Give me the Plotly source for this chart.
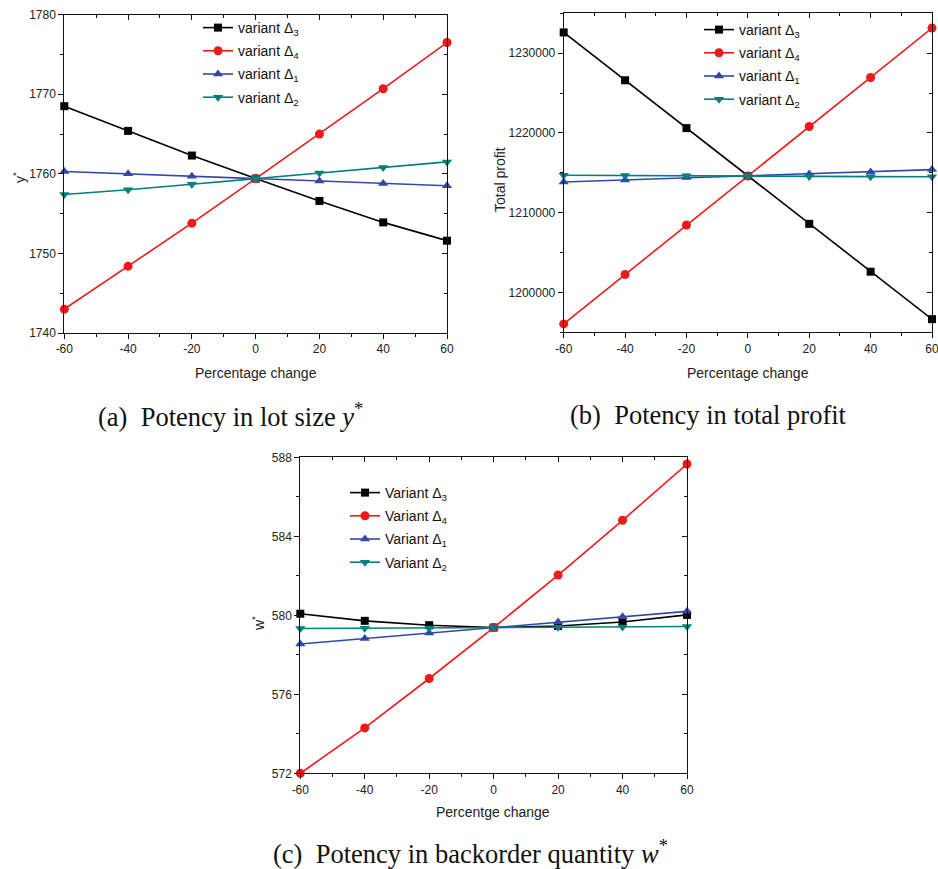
import plotly.graph_objects as go

# ---------------- data ----------------
pct = [-60, -40, -20, 0, 20, 40, 60]
x_ticks = [-60, -40, -20, 0, 20, 40, 60]
x_ticktext = ["-60", "-40", "-20", "0", "20", "40", "60"]

a_d3 = [1768.5, 1765.4, 1762.3, 1759.4, 1756.6, 1753.9, 1751.6]
a_d4 = [1743.0, 1748.4, 1753.8, 1759.4, 1765.0, 1770.7, 1776.5]
a_d1 = [1760.3, 1760.0, 1759.7, 1759.4, 1759.1, 1758.8, 1758.5]
a_d2 = [1757.4, 1758.0, 1758.7, 1759.4, 1760.1, 1760.8, 1761.5]

b_d3 = [1232600, 1226600, 1220600, 1214600, 1208600, 1202600, 1196650]
b_d4 = [1196050, 1202250, 1208450, 1214600, 1220800, 1226950, 1233150]
b_d1 = [1213850, 1214100, 1214400, 1214600, 1214850, 1215100, 1215400]
b_d2 = [1214700, 1214650, 1214620, 1214600, 1214550, 1214520, 1214500]

c_d3 = [580.08, 579.72, 579.50, 579.38, 579.46, 579.66, 580.02]
c_d4 = [572.0, 574.3, 576.8, 579.38, 582.04, 584.81, 587.66]
c_d1 = [578.55, 578.82, 579.11, 579.38, 579.66, 579.93, 580.20]
c_d2 = [579.33, 579.35, 579.36, 579.38, 579.40, 579.41, 579.43]

names_lower = ["variant Δ<sub>3</sub>", "variant Δ<sub>4</sub>",
               "variant Δ<sub>1</sub>", "variant Δ<sub>2</sub>"]
names_upper = ["Variant Δ<sub>3</sub>", "Variant Δ<sub>4</sub>",
               "Variant Δ<sub>1</sub>", "Variant Δ<sub>2</sub>"]

a_ticks = [1740, 1750, 1760, 1770, 1780]
b_ticks = [1200000, 1210000, 1220000, 1230000]
c_ticks = [572, 576, 580, 584, 588]

# ---------------- style ----------------
colors = ["#000000", "#f01818", "#3248a8", "#00807c"]
symbols = ["square", "circle", "triangle-up", "triangle-down"]
msizes = [8, 9, 9, 9]
FONT = "Arial, Liberation Sans, sans-serif"
SERIF = "Liberation Serif, DejaVu Serif, serif"

fig = go.Figure()

panels = [
    (["x", "y"], [a_d3, a_d4, a_d1, a_d2], names_lower, "legend", ["x4", "y4"]),
    (["x2", "y2"], [b_d3, b_d4, b_d1, b_d2], names_lower, "legend2", ["x5", "y5"]),
    (["x3", "y3"], [c_d3, c_d4, c_d1, c_d2], names_upper, "legend3", ["x6", "y6"]),
]
for pi, ((xa, ya), series, names, leg, (xo, yo)) in enumerate(panels):
    for i, s in enumerate(series):
        fig.add_trace(go.Scatter(
            x=pct, y=s, name=names[i], xaxis=xa, yaxis=ya, legend=leg,
            legendgroup=f"p{pi}s{i}",
            mode="lines+markers", cliponaxis=False,
            line=dict(color=colors[i], width=1.6),
            marker=dict(symbol=symbols[i], size=msizes[i], color=colors[i],
                        line=dict(width=0)),
        ))
    # invisible helper traces so the mirrored (top / right) tick axes render
    fig.add_trace(go.Scatter(x=pct, y=series[0], xaxis=xo, yaxis=ya,
                             mode="lines", opacity=0, showlegend=False,
                             hoverinfo="skip"))
    fig.add_trace(go.Scatter(x=pct, y=series[0], xaxis=xa, yaxis=yo,
                             mode="lines", opacity=0, showlegend=False,
                             hoverinfo="skip"))

W, H = 938, 869
def px_x(v):
    return v / W
def px_y(v):
    return 1 - v / H

doms = {
    "a": ([px_x(64.3), px_x(447)], [px_y(333), px_y(14.7)]),
    "b": ([px_x(563.7), px_x(932)], [px_y(332.3), px_y(13.3)]),
    "c": ([px_x(300.3), px_x(687)], [px_y(773.3), px_y(457.3)]),
}

tickfont = dict(family=FONT, size=12, color="#222222")
titlefont = dict(family=FONT, size=14, color="#222222")
X_MINOR = [-50, -30, -10, 10, 30, 50]

def xaxis_main(dom, anchor):
    return dict(domain=dom, anchor=anchor, range=[-60, 60], automargin=False,
                tickvals=x_ticks, ticktext=x_ticktext, ticks="outside", ticklen=5,
                tickwidth=1, tickcolor="#111", showline=True, linecolor="#111",
                linewidth=1, mirror=True, showgrid=False, zeroline=False,
                ticklabeloverflow="allow",
                minor=dict(tickvals=X_MINOR, ticks="outside",
                           ticklen=3, tickwidth=1, tickcolor="#111", showgrid=False),
                tickfont=tickfont)

def yaxis_main(dom, anchor, rng, tv, minor_tv, fmt=None):
    d = dict(domain=dom, anchor=anchor, range=rng, tickvals=tv, automargin=False,
             ticks="outside", ticklen=5, tickwidth=1, tickcolor="#111",
             showline=True, linecolor="#111", linewidth=1, mirror=True,
             showgrid=False, zeroline=False, ticklabeloverflow="allow",
             minor=dict(tickvals=minor_tv, ticks="outside", ticklen=3,
                        tickwidth=1, tickcolor="#111", showgrid=False),
             tickfont=tickfont)
    if fmt:
        d["tickformat"] = fmt
    return d

def xaxis_top(overlay, anchor):
    return dict(overlaying=overlay, anchor=anchor, side="top", range=[-60, 60],
                automargin=False,
                tickvals=x_ticks, ticks="inside", ticklen=5, tickwidth=1,
                tickcolor="#111", showticklabels=False, showgrid=False,
                zeroline=False, showline=False,
                minor=dict(tickvals=X_MINOR, ticks="inside",
                           ticklen=3, tickwidth=1, tickcolor="#111", showgrid=False))

def yaxis_right(overlay, anchor, rng, tv, minor_tv):
    return dict(overlaying=overlay, anchor=anchor, side="right", range=rng,
                automargin=False,
                tickvals=tv, ticks="inside", ticklen=5, tickwidth=1,
                tickcolor="#111", showticklabels=False, showgrid=False,
                zeroline=False, showline=False,
                minor=dict(tickvals=minor_tv, ticks="inside", ticklen=3,
                           tickwidth=1, tickcolor="#111", showgrid=False))

a_rng = [1740, 1780]
b_rng = [1195000, 1235000]
c_rng = [572, 588]
a_minor = [1745, 1755, 1765, 1775]
b_minor = [1195000, 1205000, 1215000, 1225000, 1235000]
c_minor = [574, 578, 582, 586]

fig.update_layout(
    xaxis=xaxis_main(doms["a"][0], "y"),
    yaxis=yaxis_main(doms["a"][1], "x", a_rng, a_ticks, a_minor),
    xaxis2=xaxis_main(doms["b"][0], "y2"),
    yaxis2=yaxis_main(doms["b"][1], "x2", b_rng, b_ticks, b_minor, "d"),
    xaxis3=xaxis_main(doms["c"][0], "y3"),
    yaxis3=yaxis_main(doms["c"][1], "x3", c_rng, c_ticks, c_minor),
    xaxis4=xaxis_top("x", "y"),
    yaxis4=yaxis_right("y", "x", a_rng, a_ticks, a_minor),
    xaxis5=xaxis_top("x2", "y2"),
    yaxis5=yaxis_right("y2", "x2", b_rng, b_ticks, b_minor),
    xaxis6=xaxis_top("x3", "y3"),
    yaxis6=yaxis_right("y3", "x3", c_rng, c_ticks, c_minor),
)

legfont = dict(family=FONT, size=14, color="#111111")
def legend(xpix, ypix):
    return dict(x=px_x(xpix), y=px_y(ypix), xanchor="left", yanchor="top",
                bgcolor="rgba(0,0,0,0)", borderwidth=0, font=legfont,
                itemwidth=30, tracegroupgap=2)

fig.update_layout(
    width=W, height=H, margin=dict(l=0, r=0, t=0, b=0),
    paper_bgcolor="white", plot_bgcolor="white",
    legend=legend(198, 12),
    legend2=legend(699, 14),
    legend3=legend(345, 477),
)

# axis titles
axis_titles = [
    ("Percentage change", 255.6, 373, 0),
    ("Percentage change", 748, 373, 0),
    ("Percentge change", 493, 812, 0),
    ("y<sup>*</sup>", 19, 178, -90),
    ("Total profit", 500, 180, -90),
    ("w<sup>*</sup>", 258, 624, -90),
]
for text, cx, cy, ang in axis_titles:
    fig.add_annotation(text=text, x=px_x(cx), y=px_y(cy), xref="paper",
                       yref="paper", showarrow=False, xanchor="center",
                       yanchor="middle", textangle=ang, font=titlefont)

capfont = dict(family=SERIF, size=26.5, color="#111111")
caps = [
    ("(a)  Potency in lot size <i>y</i><sup>*</sup>", 230, 415),
    ("(b)  Potency in total profit", 708, 415),
    ("(c)  Potency in backorder quantity <i>w</i><sup>*</sup>", 470, 852),
]
for text, cx, cy in caps:
    fig.add_annotation(text=text, x=px_x(cx), y=px_y(cy), xref="paper",
                       yref="paper", showarrow=False, xanchor="center",
                       yanchor="middle", font=capfont)

fig.write_html("out.html", config={"displayModeBar": False},
               post_script="document.body.style.margin='0';"
                           "document.body.style.overflow='hidden';")
